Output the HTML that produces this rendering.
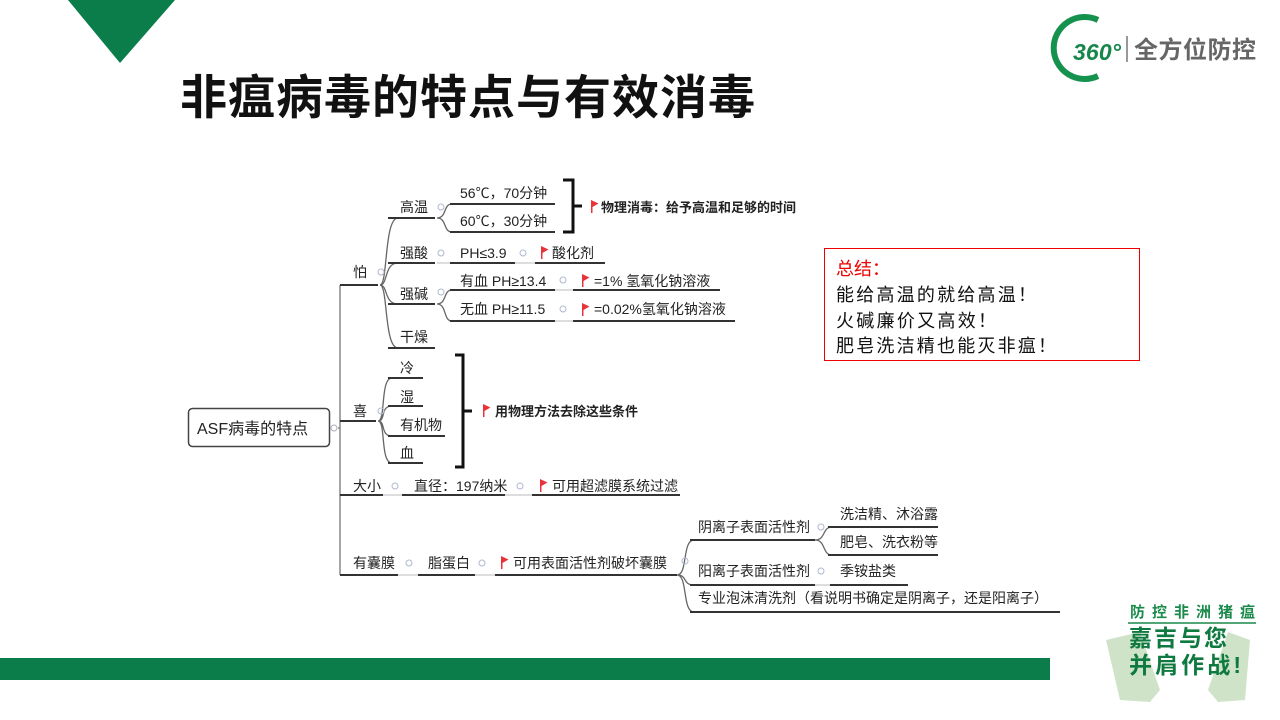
<!DOCTYPE html>
<html><head><meta charset="utf-8"><style>
html,body{margin:0;padding:0;background:#fff;width:1280px;height:720px;overflow:hidden}
svg{display:block}
text{font-family:"Liberation Sans","Noto Sans CJK SC",sans-serif;fill:#222}
.n{font-size:14px}
.b{font-size:13px;font-weight:bold}
</style></head><body>
<svg width="1280" height="720" viewBox="0 0 1280 720" xmlns="http://www.w3.org/2000/svg">
<polygon points="68,0 175,0 120,63" fill="#0b7d4a"/>
<rect x="0" y="658" width="1050" height="22" fill="#0b7d4a"/>
<path d="M1098,20 A31,31 0 1 0 1098,76" fill="none" stroke="#16924f" stroke-width="6"/>
<text x="1073" y="60" style="font-size:23px;font-weight:bold;font-style:italic;fill:#16864a" textLength="48">360°</text>
<line x1="1127" y1="36" x2="1127" y2="62" stroke="#777" stroke-width="1.5"/>
<text x="1134" y="58" style="font-size:24px;font-weight:bold;fill:#666" textLength="122">全方位防控</text>
<text x="180" y="114" style="font-size:47px;font-weight:bold;fill:#111" textLength="575">非瘟病毒的特点与有效消毒</text>

<rect x="188.5" y="408.5" width="141" height="38" rx="4" fill="#fff" stroke="#444" stroke-width="1.5"/>
<text x="197" y="434" style="font-size:16px">ASF病毒的特点</text>
<circle cx="334" cy="428" r="3" fill="none" stroke="#aab" stroke-width="1"/>

<g fill="none" stroke="#333" stroke-width="2">
<path d="M338,428 L340,428 M340,285 L340,575" stroke-width="1.3" stroke="#777"/>
<path d="M340,285 H378 M340,421 H376 M340,495 H383 M340,575 H398"/>
<path d="M380,285 C388,285 384,218 398,218" stroke-width="1.3" stroke="#666"/>
<path d="M380,285 C388,285 384,263 398,263" stroke-width="1.3" stroke="#666"/>
<path d="M380,285 C388,285 384,304 398,304" stroke-width="1.3" stroke="#666"/>
<path d="M380,285 C388,285 384,348 398,348" stroke-width="1.3" stroke="#666"/>
<path d="M388,218 H435 M388,263 H435 M388,304 H435 M388,348 H435"/>
<path d="M437,218 C447,218 443,204 452,204 M437,218 C447,218 443,232 452,232" stroke-width="1.3" stroke="#666"/>
<path d="M450,204 H555 M450,232 H555"/>
<path d="M563,180 H573 V232 H563 M573,206 H582" stroke="#111" stroke-width="3"/>
<path d="M437,263 H450 M515,263 H535" stroke="#bbb" stroke-width="1"/>
<path d="M450,263 H515 M535,263 H605"/>
<path d="M437,304 C447,304 443,290 452,290 M437,304 C447,304 443,321 452,321" stroke-width="1.3" stroke="#666"/>
<path d="M450,290 H555 M450,321 H555 M573,290 H720 M573,321 H735"/>
<path d="M555,290 H573 M555,321 H573" stroke="#bbb" stroke-width="1"/>
<path d="M378,421 C386,421 380,378 392,378 M378,421 C386,421 380,406 392,406 M378,421 C386,421 380,436 392,436 M378,421 C386,421 380,463 392,463" stroke-width="1.3" stroke="#666"/>
<path d="M388,378 H423 M388,406 H423 M388,436 H445 M388,463 H423"/>
<path d="M455,355 H463 V467 H455 M463,411 H472" stroke="#111" stroke-width="3"/>
<path d="M383,495 H402 M505,495 H532" stroke="#bbb" stroke-width="1"/>
<path d="M402,495 H505 M532,495 H680"/>
<path d="M398,575 H418 M475,575 H495" stroke="#bbb" stroke-width="1"/>
<path d="M418,575 H475 M495,575 H677"/>
<path d="M677,575 C688,575 682,540 694,540 M677,575 C688,575 682,585 694,585 M677,575 C688,575 682,612 694,612" stroke-width="1.3" stroke="#666"/>
<path d="M690,540 H815 M690,585 H815 M690,612 H1060"/>
<path d="M815,540 C826,540 822,527 832,527 M815,540 C826,540 822,555 832,555" stroke-width="1.3" stroke="#666"/>
<path d="M828,527 H938 M828,555 H938"/>
<path d="M815,585 H830" stroke="#bbb" stroke-width="1"/>
<path d="M830,585 H908"/>
</g>

<g fill="none" stroke="#b0b8d0" stroke-width="1">
<circle cx="381" cy="272" r="3"/><circle cx="381" cy="411" r="3"/><circle cx="395" cy="486" r="3"/><circle cx="409" cy="563" r="3"/>
<circle cx="441" cy="207" r="3"/><circle cx="441" cy="253" r="3"/><circle cx="441" cy="292" r="3"/>
<circle cx="523" cy="253" r="3"/><circle cx="563" cy="280" r="3"/><circle cx="563" cy="309" r="3"/>
<circle cx="520" cy="486" r="3"/><circle cx="482" cy="563" r="3"/><circle cx="685" cy="561" r="3"/>
<circle cx="821" cy="527" r="3"/><circle cx="821" cy="571" r="3"/>
</g>

<g fill="#e8333a">
<path d="M591,200 v13 h1.5 v-6 l6,-3.5 z"/>
<path d="M541,246 v13 h1.5 v-6 l6,-3.5 z"/>
<path d="M582,274 v13 h1.5 v-6 l6,-3.5 z"/>
<path d="M582,303 v13 h1.5 v-6 l6,-3.5 z"/>
<path d="M483,404 v13 h1.5 v-6 l6,-3.5 z"/>
<path d="M540,479 v13 h1.5 v-6 l6,-3.5 z"/>
<path d="M501,556 v13 h1.5 v-6 l6,-3.5 z"/>
</g>

<g class="n">
<text class="n" x="353" y="277">怕</text>
<text class="n" x="353" y="416">喜</text>
<text class="n" x="353" y="491">大小</text>
<text class="n" x="353" y="568">有囊膜</text>
<text class="n" x="400" y="212">高温</text>
<text class="n" x="400" y="258">强酸</text>
<text class="n" x="400" y="299">强碱</text>
<text class="n" x="400" y="342">干燥</text>
<text class="n" x="460" y="198">56℃，70分钟</text>
<text class="n" x="460" y="226">60℃，30分钟</text>
<text class="b" x="601" y="212">物理消毒：给予高温和足够的时间</text>
<text class="n" x="460" y="258">PH≤3.9</text>
<text class="n" x="552" y="258">酸化剂</text>
<text class="n" x="460" y="286">有血 PH≥13.4</text>
<text class="n" x="594" y="286">=1% 氢氧化钠溶液</text>
<text class="n" x="460" y="314">无血 PH≥11.5</text>
<text class="n" x="594" y="314">=0.02%氢氧化钠溶液</text>
<text class="n" x="400" y="373">冷</text>
<text class="n" x="400" y="402">湿</text>
<text class="n" x="400" y="430">有机物</text>
<text class="n" x="400" y="458">血</text>
<text class="b" x="495" y="416">用物理方法去除这些条件</text>
<text class="n" x="414" y="491">直径：197纳米</text>
<text class="n" x="552" y="491">可用超滤膜系统过滤</text>
<text class="n" x="428" y="568">脂蛋白</text>
<text class="n" x="513" y="568">可用表面活性剂破坏囊膜</text>
<text class="n" x="698" y="532">阴离子表面活性剂</text>
<text class="n" x="698" y="576">阳离子表面活性剂</text>
<text class="n" x="698" y="603">专业泡沫清洗剂（看说明书确定是阴离子，还是阳离子）</text>
<text class="n" x="840" y="519">洗洁精、沐浴露</text>
<text class="n" x="840" y="547">肥皂、洗衣粉等</text>
<text class="n" x="840" y="576">季铵盐类</text>
</g>

<rect x="824.5" y="248.5" width="315" height="112" fill="#fff" stroke="#e00" stroke-width="1"/>
<text x="836" y="275" style="font-size:18px;fill:#e00">总结：</text>
<text x="836" y="301" style="font-size:18px;fill:#111" textLength="200">能给高温的就给高温！</text>
<text x="836" y="327" style="font-size:18px;fill:#111" textLength="160">火碱廉价又高效！</text>
<text x="836" y="352" style="font-size:18px;fill:#111" textLength="220">肥皂洗洁精也能灭非瘟！</text>

<path d="M1106,640 L1140,632 L1160,690 L1150,702 L1120,700 Z" fill="#cfe3c9"/>
<path d="M1250,640 L1228,632 L1208,690 L1218,702 L1245,700 Z" fill="#cfe3c9"/>
<text x="1130" y="617" style="font-size:15px;font-weight:bold;fill:#1a8a4a" textLength="125">防控非洲猪瘟</text>
<line x1="1128" y1="623" x2="1256" y2="623" stroke="#1a8a4a" stroke-width="1.5"/>
<text x="1129" y="646" style="font-size:23px;font-weight:bold;fill:#0f7a40" textLength="98">嘉吉与您</text>
<text x="1129" y="673" style="font-size:23px;font-weight:bold;fill:#0f7a40" textLength="112">并肩作战!</text>
</svg>
</body></html>
